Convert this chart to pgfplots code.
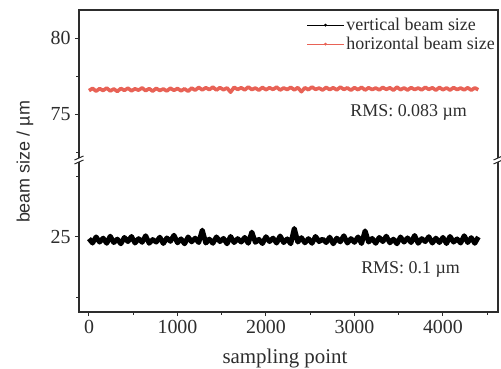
\documentclass[border=0pt]{standalone}
\usepackage{pgfplots}
\pgfplotsset{compat=1.18}
\usepackage{fontspec}
\setmainfont{Liberation Serif}
\newfontfamily\sansf{Liberation Sans}
\definecolor{redc}{RGB}{232,98,86}
\definecolor{axc}{RGB}{45,45,45}

\pgfplotstableread{
x y
0 24.93
40 24.75
80 25.00
120 24.79
160 24.95
200 24.74
240 25.03
280 24.77
320 24.91
360 24.72
400 24.98
440 24.81
480 25.02
520 24.75
560 24.93
600 24.78
640 25.05
680 24.74
720 24.89
760 24.79
800 24.99
840 24.73
880 24.96
920 24.82
960 25.07
1000 24.76
1040 24.92
1080 24.72
1120 25.00
1160 24.80
1200 24.95
1240 24.77
1280 25.28
1320 24.75
1360 24.91
1400 24.74
1440 25.00
1480 24.81
1520 24.94
1560 24.72
1600 25.02
1640 24.77
1680 24.93
1720 24.79
1760 24.98
1800 24.74
1840 25.20
1880 24.78
1920 24.90
1960 24.73
2000 25.01
2040 24.81
2080 24.95
2120 24.75
2160 25.04
2200 24.77
2240 24.92
2280 24.72
2320 25.35
2360 24.79
2400 24.97
2440 24.76
2480 24.93
2520 24.74
2560 25.02
2600 24.81
2640 24.91
2680 24.77
2720 24.99
2760 24.72
2800 24.95
2840 24.80
2880 25.05
2920 24.75
2960 24.93
3000 24.78
3040 25.00
3080 24.73
3120 25.25
3160 24.79
3200 24.94
3240 24.74
3280 24.98
3320 24.81
3360 25.03
3400 24.76
3440 24.91
3480 24.72
3520 25.00
3560 24.79
3600 24.96
3640 24.77
3680 25.06
3720 24.74
3760 24.93
3800 24.81
3840 25.01
3880 24.75
3920 24.95
3960 24.77
4000 24.98
4040 24.73
4080 25.02
4120 24.79
4160 24.92
4200 24.75
4240 25.05
4280 24.77
4320 24.97
4360 24.74
4400 25.00
}\vertdata

\pgfplotstableread{
x y
0 76.55
40 76.70
80 76.52
120 76.68
160 76.56
200 76.72
240 76.53
280 76.66
320 76.50
360 76.69
400 76.57
440 76.71
480 76.54
520 76.67
560 76.58
600 76.73
640 76.55
680 76.68
720 76.52
760 76.70
800 76.56
840 76.66
880 76.53
920 76.71
960 76.57
1000 76.69
1040 76.54
1080 76.67
1120 76.51
1160 76.72
1200 76.58
1240 76.76
1280 76.60
1320 76.74
1360 76.62
1400 76.78
1440 76.59
1480 76.75
1520 76.61
1560 76.73
1600 76.45
1640 76.77
1680 76.63
1720 76.74
1760 76.60
1800 76.79
1840 76.62
1880 76.72
1920 76.58
1960 76.76
2000 76.61
2040 76.74
2080 76.63
2120 76.78
2160 76.59
2200 76.73
2240 76.62
2280 76.77
2320 76.60
2360 76.75
2400 76.48
2440 76.74
2480 76.61
2520 76.79
2560 76.63
2600 76.72
2640 76.59
2680 76.76
2720 76.62
2760 76.74
2800 76.60
2840 76.78
2880 76.63
2920 76.73
2960 76.58
3000 76.75
3040 76.61
3080 76.77
3120 76.59
3160 76.74
3200 76.62
3240 76.72
3280 76.60
3320 76.76
3360 76.63
3400 76.74
3440 76.58
3480 76.78
3520 76.61
3560 76.73
3600 76.59
3640 76.75
3680 76.62
3720 76.72
3760 76.60
3800 76.77
3840 76.63
3880 76.74
3920 76.58
3960 76.76
4000 76.61
4040 76.73
4080 76.59
4120 76.75
4160 76.62
4200 76.72
4240 76.60
4280 76.74
4320 76.58
4360 76.73
4400 76.61
}\horizdata

\pgfplotsset{
  common/.style={
    scale only axis, width=419bp,
    xmin=-113, xmax=4622,
    clip=false,
    axis line style={draw=none},
    tick align=outside,
    major tick length=4bp, minor tick length=2.5bp,
    every tick/.style={axc, line width=1bp},
    /pgf/number format/assume math mode=true,
    /pgf/number format/1000 sep={},
    ticklabel style={font=\fontsize{20}{24}\selectfont, text=axc},
    ytick pos=left,
  },
}

\begin{document}
\begin{tikzpicture}
\useasboundingbox (-79bp,160bp) rectangle (422bp,-209bp);

% upper axis
\begin{axis}[common,
  at={(0,0)}, anchor=south west, height=150bp,
  ymin=72, ymax=81.84,
  xtick=\empty,
  ytick={75,80}, minor ytick={72.5,77.5},
  yticklabel style={xshift=-1bp},
  legend style={draw=none, fill=none, at={(rel axis cs:1,1)}, xshift=-1bp, yshift=-6bp,
    anchor=north east, font=\fontsize{18}{20}\selectfont, text=axc,
    inner sep=0pt, row sep=1pt, cells={anchor=west}},
  legend image code/.code={
    \draw[#1, line width=0.8bp] (0bp,0bp) -- (37bp,0bp);
    \fill[#1] (18.5bp,0bp) circle (1.2bp);
  },
]
\draw[axc, line width=1.3bp] (rel axis cs:0,0) -- (rel axis cs:0,1) -- (rel axis cs:1,1) -- (rel axis cs:1,0);
\addlegendimage{black}
\addlegendentry{vertical beam size}
\addlegendimage{redc}
\addlegendentry{horizontal beam size}
\addplot[redc, line width=3.6bp, line join=round, forget plot] table[x=x, y=y] {\horizdata};
\node[anchor=east, font=\fontsize{18}{20}\selectfont, text=axc] at (axis cs:4310,75.1) {RMS: 0.083 µm};
\end{axis}

% lower axis
\begin{axis}[common,
  at={(0,0)}, anchor=north west, height=152bp,
  ymin=21.9, ymax=28.18,
  xtick={0,1000,2000,3000,4000},
  minor xtick={500,1500,2500,3500,4500},
  xtick pos=bottom,
  ytick={25}, minor ytick={22.5,27.5},
  yticklabel style={xshift=-1bp},
  xticklabel style={yshift=-1bp},
]
\draw[axc, line width=1.3bp] (rel axis cs:0,1) -- (rel axis cs:0,0) -- (rel axis cs:1,0) -- (rel axis cs:1,1);
\addplot[black, line width=5bp, line join=round] table[x=x, y=y] {\vertdata};
\node[anchor=east, font=\fontsize{18}{20}\selectfont, text=axc] at (axis cs:4230,23.64) {RMS: 0.1 µm};
\end{axis}

% axis break marks
\foreach \xx in {0bp,419bp}{
  \fill[white] (\xx-5bp,-2bp) rectangle (\xx+5bp,2bp);
  \draw[axc, line width=1bp] (\xx-4.5bp,-4bp) -- (\xx+4.5bp,0bp);
  \draw[axc, line width=1bp] (\xx-4.5bp,0bp) -- (\xx+4.5bp,4bp);
}

\node[rotate=90, font=\sansf\fontsize{18}{20}\selectfont, text=axc] at (-54bp,-2bp) {beam size / µm};
\node[font=\fontsize{21}{24}\selectfont, text=axc] at (206bp,-198bp) {sampling point};
\end{tikzpicture}
\end{document}
